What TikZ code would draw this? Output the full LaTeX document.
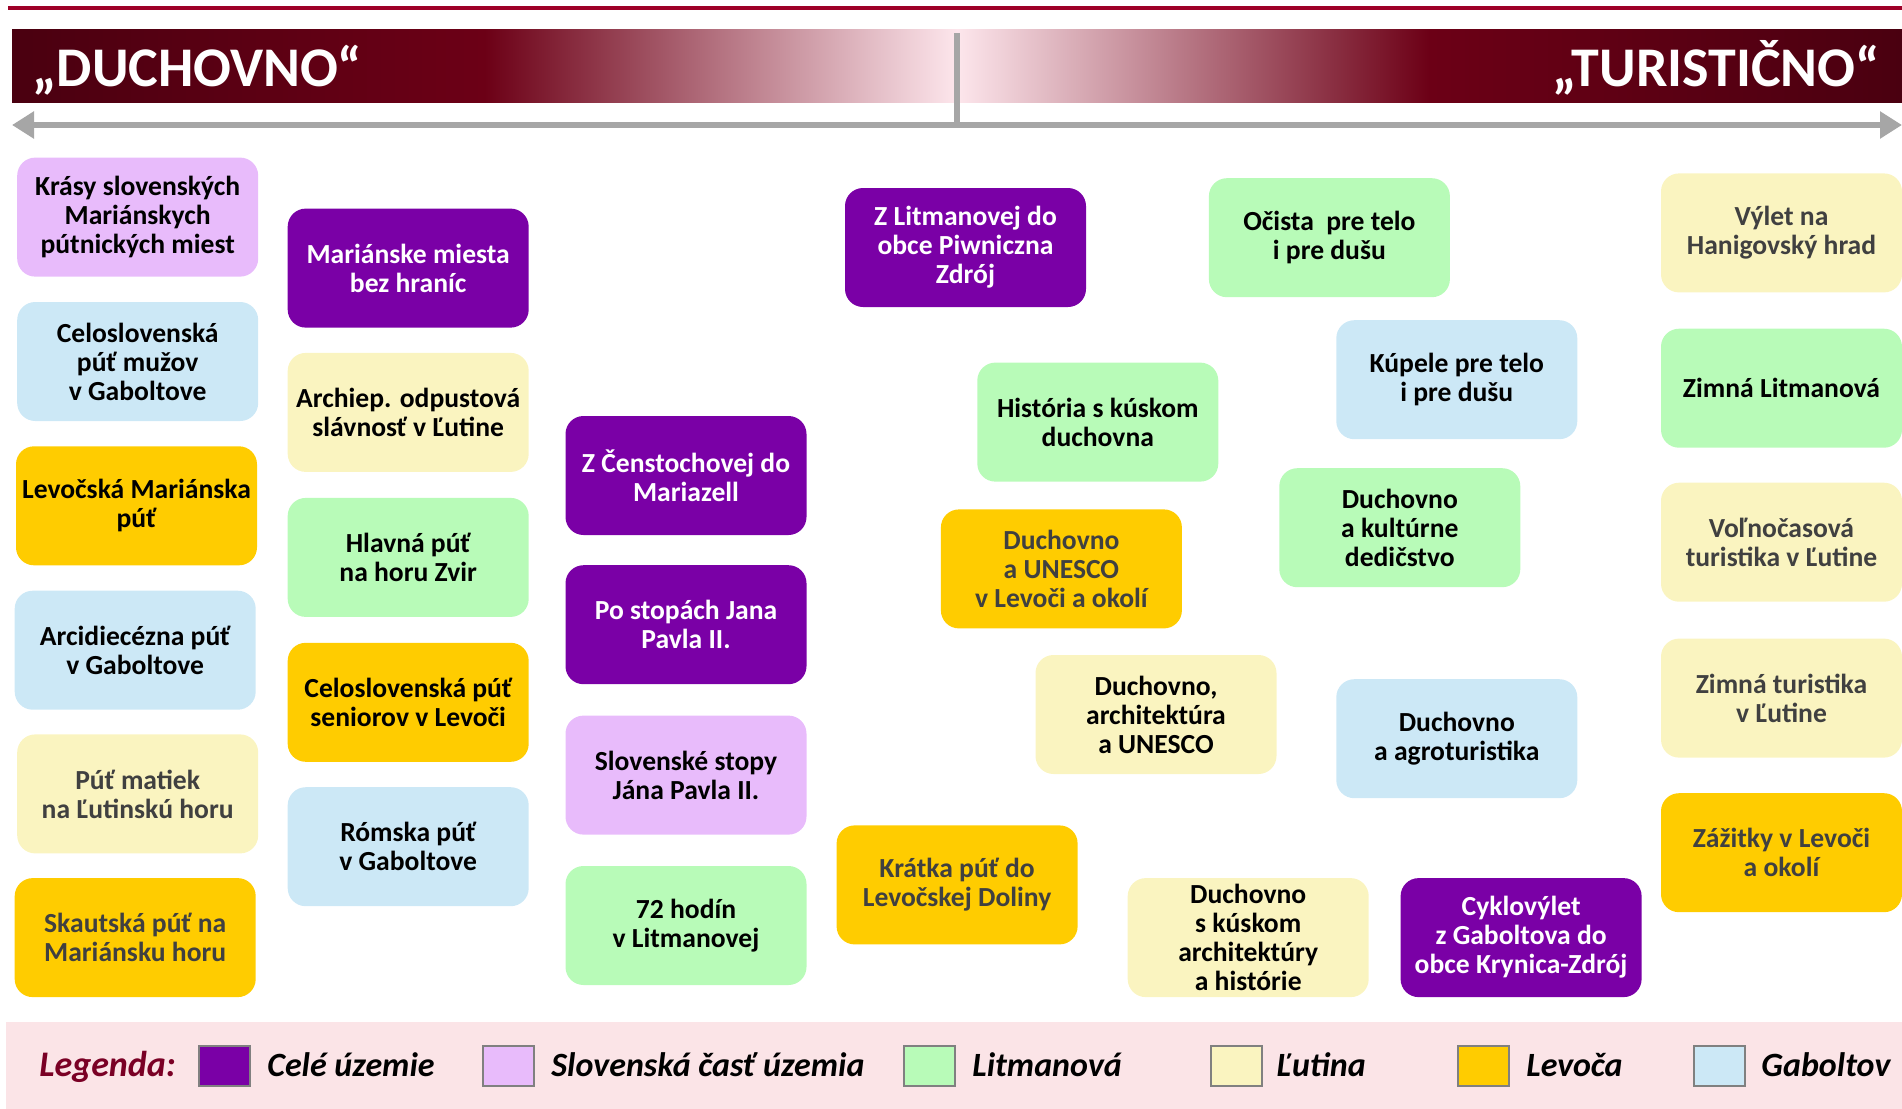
\documentclass[tikz,border=0pt]{standalone}
\usepackage{fontspec}
\setmainfont{Carlito}
\usetikzlibrary{arrows.meta}
\definecolor{cP}{HTML}{7A00A6}
\definecolor{cV}{HTML}{E8BBFB}
\definecolor{cG}{HTML}{B8FBB8}
\definecolor{cY}{HTML}{FAF4C0}
\definecolor{cO}{HTML}{FFCC00}
\definecolor{cB}{HTML}{CCE8F6}
\definecolor{dimtxt}{HTML}{404040}
\definecolor{redline}{HTML}{9E0028}
\definecolor{axisgray}{HTML}{A6A6A6}
\definecolor{legbg}{HTML}{FBE4E7}
\definecolor{legred}{HTML}{7A0025}
\definecolor{legedge}{HTML}{808080}
\definecolor{bdk}{HTML}{4A0010}
\definecolor{bmd}{HTML}{6C0016}
\definecolor{blt}{HTML}{FDE6EC}
\pgfdeclarehorizontalshading{bannerL}{100bp}{color(0bp)=(bdk); color(25bp)=(bdk); color(50bp)=(bmd); color(75bp)=(blt); color(100bp)=(blt)}
\pgfdeclarehorizontalshading{bannerR}{100bp}{color(0bp)=(blt); color(25bp)=(blt); color(50bp)=(bmd); color(75bp)=(bdk); color(100bp)=(bdk)}
\tikzset{
  box/.style={rounded corners=9pt, minimum width=120.5pt, minimum height=59.5pt,
    inner sep=0pt, align=center, font=\fontsize{13.8}{14.5}\selectfont\bfseries, text=black},
  boxP/.style={box, fill=cP, text=white},
  boxV/.style={box, fill=cV},
  boxG/.style={box, fill=cG},
  boxY/.style={box, fill=cY},
  boxO/.style={box, fill=cO},
  boxB/.style={box, fill=cB},
  dim/.style={text=dimtxt},
  legsq/.style={draw=legedge, line width=1pt, minimum width=25.5pt, minimum height=20pt, inner sep=0pt},
  legtxt/.style={anchor=base west, inner sep=0pt, font=\fontsize{17}{20}\selectfont\bfseries\itshape},
  bantxt/.style={inner sep=0pt, text=white, font=\fontsize{28}{30}\selectfont\bfseries},
}
\begin{document}
\begin{tikzpicture}[x=0.5pt, y=-0.5pt]
\useasboundingbox (0,0) rectangle (1902,1109);
% top red line
\fill[redline] (8,6) rectangle (1902,10);
% banner
\shade[shading=bannerL] (12,29) rectangle (957,102);
\shade[shading=bannerR] (957,29) rectangle (1902,102);
\node[bantxt, anchor=base west] (tL) at (32,86) {„DUCHOVNO“};
\node[bantxt, anchor=base east] (tR) at (1880,86) {„TURISTIČNO“};
% axis
\coordinate (vt) at (957,33);
\coordinate (vb) at (957,125);
\coordinate (aL) at (12,125);
\coordinate (aR) at (1902,125);
\draw[axisgray, line width=3pt] (vt) -- (vb);
\draw[axisgray, line width=3pt, {Triangle[length=11pt,width=13pt]}-{Triangle[length=11pt,width=13pt]}] (aL) -- (aR);
% column 1
\node[boxV] (n1) at (137.7,217.1) {Krásy slovenských\\Mariánskych\\pútnických miest};
\node[boxB] (n2) at (137.7,361.5) {Celoslovenská\\púť mužov\\v Gaboltove};
\node[boxO] (n3) at (136.5,505.8) {Levočská Mariánska\\púť};
\node[boxB] (n4) at (135.2,650.2) {Arcidiecézna púť\\v Gaboltove};
\node[boxY, dim] (n5) at (137.7,793.9) {Púť matiek\\na Ľutinskú horu};
\node[boxO, dim] (n6) at (135.2,937.6) {Skautská púť na\\Mariánsku horu};
% column 2
\node[boxP] (m1) at (408.2,268.1) {Mariánske miesta\\bez hraníc};
\node[boxY] (m2) at (408.2,412.4) {Archiep. odpustová\\slávnosť v Ľutine};
\node[boxG] (m3) at (408.2,557.4) {Hlavná púť\\na horu Zvir};
\node[boxO] (m4) at (408.2,702.3) {Celoslovenská púť\\seniorov v Levoči};
\node[boxB] (m5) at (408.2,846.7) {Rómska púť\\v Gaboltove};
% column 3
\node[boxP] (k1) at (686.0,475.5) {Z Čenstochovej do\\Mariazell};
\node[boxP] (k2) at (686.0,624.7) {Po stopách Jana\\Pavla II.};
\node[boxV] (k3) at (686.0,775.1) {Slovenské stopy\\Jána Pavla II.};
\node[boxG] (k4) at (686.0,925.5) {72 hodín\\v Litmanovej};
% middle
\node[boxP] (c1) at (965.5,247.5) {Z Litmanovej do\\obce Piwniczna\\Zdrój};
\node[boxG] (c2) at (1097.8,422.1) {História s kúskom\\duchovna};
\node[boxO, dim] (c3) at (1061.4,568.9) {Duchovno\\a UNESCO\\v Levoči a okolí};
\node[boxY] (c4) at (1156.0,714.5) {Duchovno,\\architektúra\\a UNESCO};
\node[boxO, dim] (c5) at (957.1,884.9) {Krátka púť do\\Levočskej Doliny};
\node[boxY] (c6) at (1248.2,937.6) {Duchovno\\s kúskom\\architektúry\\a histórie};
\node[boxG] (d1) at (1329.4,237.7) {Očista\ \ pre telo\\i pre dušu};
\node[boxB] (d2) at (1456.8,379.7) {Kúpele pre telo\\i pre dušu};
\node[boxG] (d3) at (1399.8,527.7) {Duchovno\\a kultúrne\\dedičstvo};
\node[boxB] (d4) at (1456.8,738.7) {Duchovno\\a agroturistika};
\node[boxP] (d5) at (1521.1,937.6) {Cyklovýlet\\z Gaboltova do\\obce Krynica-Zdrój};
% right column
\node[boxY, dim] (r1) at (1781.5,232.9) {Výlet na\\Hanigovský hrad};
\node[boxG] (r2) at (1781.5,388.2) {Zimná Litmanová};
\node[boxY, dim] (r3) at (1781.5,542.2) {Voľnočasová\\turistika v Ľutine};
\node[boxY, dim] (r4) at (1781.5,698.1) {Zimná turistika\\v Ľutine};
\node[boxO, dim] (r5) at (1781.5,852.7) {Zážitky v Levoči\\a okolí};
% legend
\fill[legbg] (6,1022) rectangle (1902,1109);
\node[legtxt, text=legred, font=\fontsize{18}{20}\selectfont\bfseries\itshape] (lg) at (39,1076) {Legenda:};
\node[legsq, fill=cP] (s1) at (224.5,1066) {};
\node[legtxt] (l1) at (267,1076) {Celé územie};
\node[legsq, fill=cV] (s2) at (508,1066) {};
\node[legtxt] (l2) at (551,1076) {Slovenská časť územia};
\node[legsq, fill=cG] (s3) at (929,1066) {};
\node[legtxt] (l3) at (972,1076) {Litmanová};
\node[legsq, fill=cY] (s4) at (1236,1066) {};
\node[legtxt] (l4) at (1277,1076) {Ľutina};
\node[legsq, fill=cO] (s5) at (1483,1066) {};
\node[legtxt] (l5) at (1526,1076) {Levoča};
\node[legsq, fill=cB] (s6) at (1719,1066) {};
\node[legtxt] (l6) at (1761,1076) {Gaboltov};
\end{tikzpicture}
\end{document}
